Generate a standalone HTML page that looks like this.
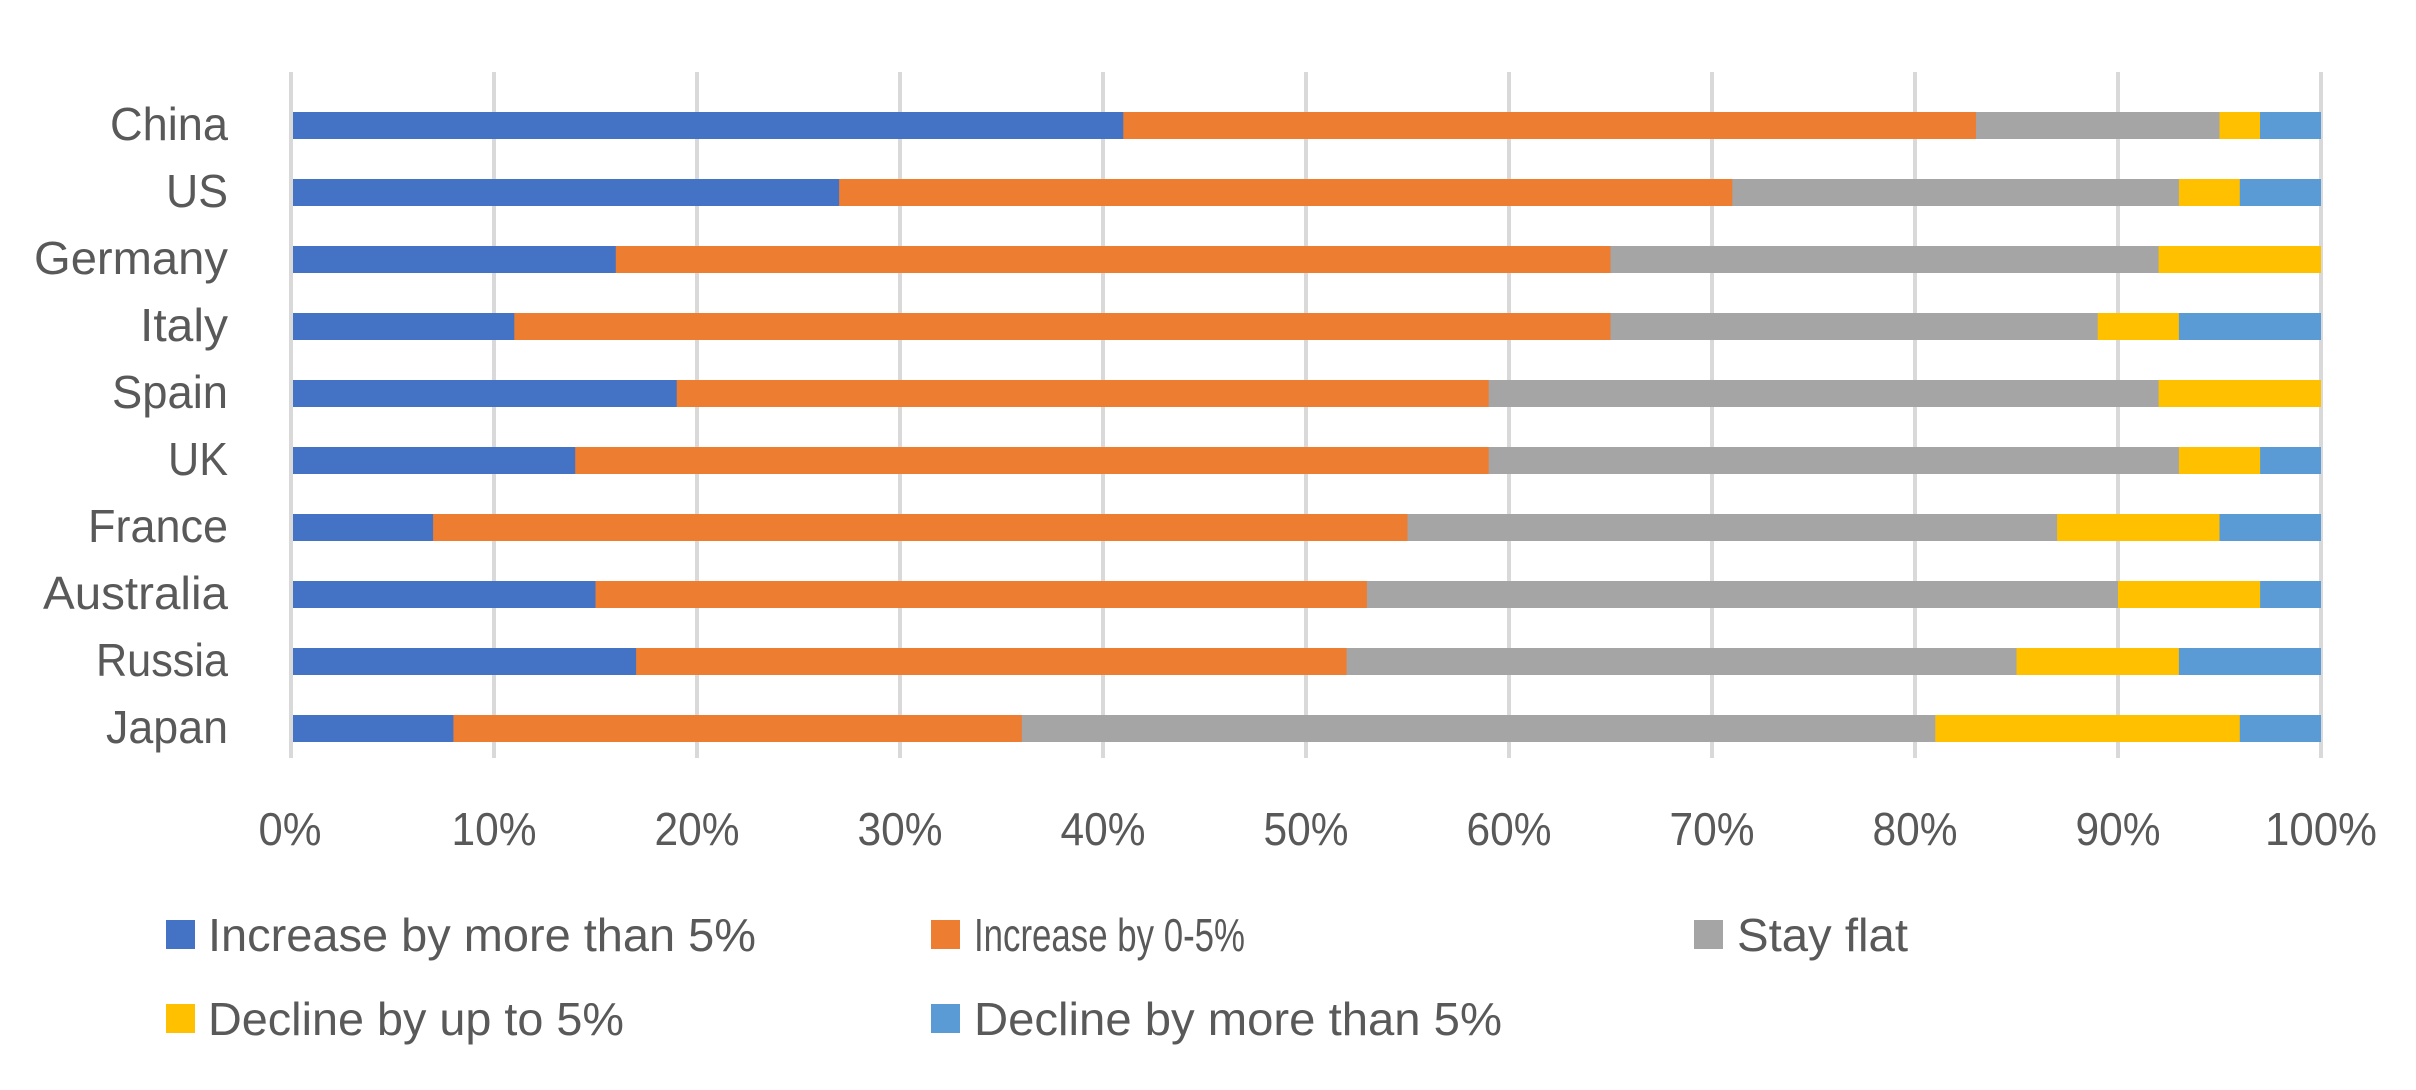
<!DOCTYPE html>
<html><head><meta charset="utf-8"><style>html,body{margin:0;padding:0;background:#fff}svg{display:block}</style></head>
<body>
<svg width="2416" height="1090" xmlns="http://www.w3.org/2000/svg" font-family="Liberation Sans, sans-serif" fill="#595959">
<g stroke="#d9d9d9" stroke-width="4">
<line x1="291" y1="72" x2="291" y2="758"/><line x1="494" y1="72" x2="494" y2="758"/><line x1="697" y1="72" x2="697" y2="758"/><line x1="900" y1="72" x2="900" y2="758"/><line x1="1103" y1="72" x2="1103" y2="758"/><line x1="1306" y1="72" x2="1306" y2="758"/><line x1="1509" y1="72" x2="1509" y2="758"/><line x1="1712" y1="72" x2="1712" y2="758"/><line x1="1915" y1="72" x2="1915" y2="758"/><line x1="2118" y1="72" x2="2118" y2="758"/><line x1="2321" y1="72" x2="2321" y2="758"/>
</g>
<g>
<!-- China -->
<rect x="293" y="112" width="2028" height="27" fill="#5b9bd5"/>
<rect x="293" y="112" width="1967" height="27" fill="#ffc000"/>
<rect x="293" y="112" width="1926.5" height="27" fill="#a5a5a5"/>
<rect x="293" y="112" width="1683" height="27" fill="#ed7d31"/>
<rect x="293" y="112" width="830.3" height="27" fill="#4472c4"/>
<!-- US -->
<rect x="293" y="179" width="2028" height="27" fill="#5b9bd5"/>
<rect x="293" y="179" width="1946.8" height="27" fill="#ffc000"/>
<rect x="293" y="179" width="1885.9" height="27" fill="#a5a5a5"/>
<rect x="293" y="179" width="1439.3" height="27" fill="#ed7d31"/>
<rect x="293" y="179" width="546.1" height="27" fill="#4472c4"/>
<!-- Germany -->
<rect x="293" y="246" width="2028" height="27" fill="#ffc000"/>
<rect x="293" y="246" width="1865.6" height="27" fill="#a5a5a5"/>
<rect x="293" y="246" width="1317.5" height="27" fill="#ed7d31"/>
<rect x="293" y="246" width="322.8" height="27" fill="#4472c4"/>
<!-- Italy -->
<rect x="293" y="313" width="2028" height="27" fill="#5b9bd5"/>
<rect x="293" y="313" width="1885.9" height="27" fill="#ffc000"/>
<rect x="293" y="313" width="1804.7" height="27" fill="#a5a5a5"/>
<rect x="293" y="313" width="1317.5" height="27" fill="#ed7d31"/>
<rect x="293" y="313" width="221.3" height="27" fill="#4472c4"/>
<!-- Spain -->
<rect x="293" y="380" width="2028" height="27" fill="#ffc000"/>
<rect x="293" y="380" width="1865.6" height="27" fill="#a5a5a5"/>
<rect x="293" y="380" width="1195.7" height="27" fill="#ed7d31"/>
<rect x="293" y="380" width="383.7" height="27" fill="#4472c4"/>
<!-- UK -->
<rect x="293" y="447" width="2028" height="27" fill="#5b9bd5"/>
<rect x="293" y="447" width="1967.1" height="27" fill="#ffc000"/>
<rect x="293" y="447" width="1885.9" height="27" fill="#a5a5a5"/>
<rect x="293" y="447" width="1195.7" height="27" fill="#ed7d31"/>
<rect x="293" y="447" width="282.2" height="27" fill="#4472c4"/>
<!-- France -->
<rect x="293" y="514" width="2028" height="27" fill="#5b9bd5"/>
<rect x="293" y="514" width="1926.5" height="27" fill="#ffc000"/>
<rect x="293" y="514" width="1764.1" height="27" fill="#a5a5a5"/>
<rect x="293" y="514" width="1114.5" height="27" fill="#ed7d31"/>
<rect x="293" y="514" width="140.1" height="27" fill="#4472c4"/>
<!-- Australia -->
<rect x="293" y="581" width="2028" height="27" fill="#5b9bd5"/>
<rect x="293" y="581" width="1967.1" height="27" fill="#ffc000"/>
<rect x="293" y="581" width="1825" height="27" fill="#a5a5a5"/>
<rect x="293" y="581" width="1073.9" height="27" fill="#ed7d31"/>
<rect x="293" y="581" width="302.5" height="27" fill="#4472c4"/>
<!-- Russia -->
<rect x="293" y="648" width="2028" height="27" fill="#5b9bd5"/>
<rect x="293" y="648" width="1885.9" height="27" fill="#ffc000"/>
<rect x="293" y="648" width="1723.5" height="27" fill="#a5a5a5"/>
<rect x="293" y="648" width="1053.6" height="27" fill="#ed7d31"/>
<rect x="293" y="648" width="343.1" height="27" fill="#4472c4"/>
<!-- Japan -->
<rect x="293" y="715" width="2028" height="27" fill="#5b9bd5"/>
<rect x="293" y="715" width="1946.8" height="27" fill="#ffc000"/>
<rect x="293" y="715" width="1642.3" height="27" fill="#a5a5a5"/>
<rect x="293" y="715" width="728.8" height="27" fill="#ed7d31"/>
<rect x="293" y="715" width="160.4" height="27" fill="#4472c4"/>
</g>
<g font-size="46" text-anchor="end">
<text x="228" y="140" textLength="118" lengthAdjust="spacingAndGlyphs">China</text>
<text x="228" y="207" textLength="62" lengthAdjust="spacingAndGlyphs">US</text>
<text x="228" y="274" textLength="194" lengthAdjust="spacingAndGlyphs">Germany</text>
<text x="228" y="341" textLength="88" lengthAdjust="spacingAndGlyphs">Italy</text>
<text x="228" y="408" textLength="116" lengthAdjust="spacingAndGlyphs">Spain</text>
<text x="228" y="475" textLength="60" lengthAdjust="spacingAndGlyphs">UK</text>
<text x="228" y="542" textLength="140" lengthAdjust="spacingAndGlyphs">France</text>
<text x="228" y="609" textLength="185" lengthAdjust="spacingAndGlyphs">Australia</text>
<text x="228" y="676" textLength="132" lengthAdjust="spacingAndGlyphs">Russia</text>
<text x="228" y="743" textLength="122" lengthAdjust="spacingAndGlyphs">Japan</text>
</g>
<g font-size="46" text-anchor="middle">
<text x="290" y="845" textLength="63" lengthAdjust="spacingAndGlyphs">0%</text>
<text x="494" y="845" textLength="85" lengthAdjust="spacingAndGlyphs">10%</text>
<text x="697" y="845" textLength="85" lengthAdjust="spacingAndGlyphs">20%</text>
<text x="900" y="845" textLength="85" lengthAdjust="spacingAndGlyphs">30%</text>
<text x="1103" y="845" textLength="85" lengthAdjust="spacingAndGlyphs">40%</text>
<text x="1306" y="845" textLength="85" lengthAdjust="spacingAndGlyphs">50%</text>
<text x="1509" y="845" textLength="85" lengthAdjust="spacingAndGlyphs">60%</text>
<text x="1712" y="845" textLength="85" lengthAdjust="spacingAndGlyphs">70%</text>
<text x="1915" y="845" textLength="85" lengthAdjust="spacingAndGlyphs">80%</text>
<text x="2118" y="845" textLength="85" lengthAdjust="spacingAndGlyphs">90%</text>
<text x="2321" y="845" textLength="112" lengthAdjust="spacingAndGlyphs">100%</text>
</g>
<g font-size="46">
<rect x="166" y="920" width="29" height="29" fill="#4472c4"/><text x="208" y="951" textLength="548" lengthAdjust="spacingAndGlyphs">Increase by more than 5%</text>
<rect x="931" y="920" width="29" height="29" fill="#ed7d31"/><text x="974" y="951" textLength="271" lengthAdjust="spacingAndGlyphs">Increase by 0-5%</text>
<rect x="1694" y="920" width="29" height="29" fill="#a5a5a5"/><text x="1737" y="951" textLength="171" lengthAdjust="spacingAndGlyphs">Stay flat</text>
<rect x="166" y="1004" width="29" height="29" fill="#ffc000"/><text x="208" y="1035" textLength="416" lengthAdjust="spacingAndGlyphs">Decline by up to 5%</text>
<rect x="931" y="1004" width="29" height="29" fill="#5b9bd5"/><text x="974" y="1035" textLength="528" lengthAdjust="spacingAndGlyphs">Decline by more than 5%</text>
</g>
</svg>
</body></html>
